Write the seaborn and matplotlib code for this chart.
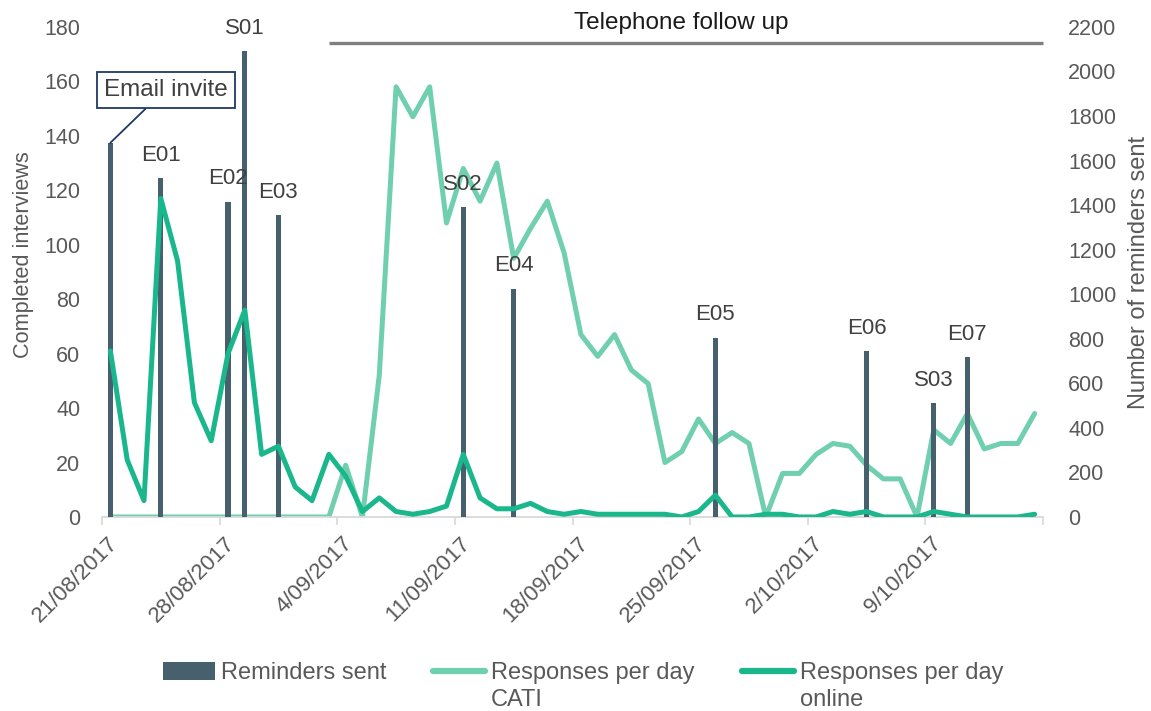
import matplotlib
matplotlib.use("Agg")
import matplotlib.pyplot as plt
import matplotlib.transforms as mtransforms
import seaborn as sns
import pandas as pd
from matplotlib.patches import Patch
from matplotlib.lines import Line2D

sns.set_theme(style="white")
plt.rcParams['font.family'] = ['Liberation Sans', 'DejaVu Sans']

# ---- data -------------------------------------------------------------
START = "2017-08-21"
N_DAYS = 56

cati_per_day = [0] * 14 + [
    19, 0, 52, 158, 147, 158, 108, 128, 116, 130, 95, 106, 116, 97,
    67, 59, 67, 54, 49, 20, 24, 36, 27, 31, 27, 0, 16, 16,
    23, 27, 26, 19, 14, 14, 0, 32, 27, 38, 25, 27, 27, 38,
]
online_per_day = [
    61, 21, 6, 117, 94, 42, 28, 60, 76, 23, 26, 11, 6, 23,
    15, 2, 7, 2, 1, 2, 4, 23, 7, 3, 3, 5, 2, 1,
    2, 1, 1, 1, 1, 1, 0, 2, 8, 0, 0, 1, 1, 0,
    0, 2, 1, 2, 0, 0, 0, 2, 1, 0, 0, 0, 0, 1,
]

reminder_dates = ["2017-08-21", "2017-08-24", "2017-08-28", "2017-08-29",
                  "2017-08-31", "2017-09-11", "2017-09-14", "2017-09-26",
                  "2017-10-05", "2017-10-09", "2017-10-11"]
reminder_counts = [1680, 1520, 1415, 2090, 1355, 1390, 1025, 805, 745, 512, 718]
reminder_names = ["Email invite", "E01", "E02", "S01", "E03", "S02", "E04",
                  "E05", "E06", "S03", "E07"]

week_labels = ["21/08/2017", "28/08/2017", "4/09/2017", "11/09/2017",
               "18/09/2017", "25/09/2017", "2/10/2017", "9/10/2017"]

PHONE_START = "2017-09-03"
PHONE_TITLE = "Telephone follow up"

# ---- frames -----------------------------------------------------------
start = pd.Timestamp(START)
daily = pd.DataFrame({
    "day": range(N_DAYS),
    "cati": cati_per_day,
    "online": online_per_day,
})
reminders = pd.DataFrame({
    "day": [(pd.Timestamp(d) - start).days for d in reminder_dates],
    "count": reminder_counts,
    "name": reminder_names,
})

BAR = "#46606E"
CATI = "#6FCFAE"
ONLINE = "#1AB68C"
GREY_TXT = "#595959"
AXIS = "#D9D9D9"

fig = plt.figure(figsize=(11.51, 7.11), dpi=100)
ax1 = fig.add_axes([0.0886, 0.2729, 0.8176, 0.6892])
ax2 = ax1.twinx()
ax3 = ax1.twinx()

# CATI responses (left scale), reminders (right scale), online on top
sns.lineplot(data=daily, x="day", y="cati", ax=ax1, color=CATI, lw=3.6,
             solid_joinstyle="round", solid_capstyle="round")
sns.barplot(data=reminders, x="day", y="count", ax=ax2, native_scale=True,
            width=0.3, color=BAR, saturation=1, errorbar=None, linewidth=0)
sns.lineplot(data=daily, x="day", y="online", ax=ax3, color=ONLINE, lw=3.6,
             solid_joinstyle="round", solid_capstyle="round")

xmin, xmax = -0.5, N_DAYS - 0.5
for a in (ax1, ax2, ax3):
    a.set_xlim(xmin, xmax)
    for s in a.spines.values():
        s.set_visible(False)
ax1.set_ylim(0, 180)
ax3.set_ylim(0, 180)
ax2.set_ylim(0, 2200)

ax1.spines["bottom"].set_visible(True)
ax1.spines["bottom"].set_color(AXIS)
ax1.spines["bottom"].set_linewidth(1.3)

ax1.set_yticks(range(0, 181, 20))
ax2.set_yticks(range(0, 2201, 200))
ax3.set_yticks([])
ax1.tick_params(axis="y", length=0, pad=15.5, labelsize=15.5, labelcolor=GREY_TXT)
ax2.tick_params(axis="y", length=0, pad=18, labelsize=15.5, labelcolor=GREY_TXT)

week_ticks = [xmin + 7 * i for i in range(len(week_labels))] + [xmax]
ax1.set_xticks(week_ticks)
ax1.set_xticklabels(week_labels + [""], rotation=45, ha="right",
                    rotation_mode="anchor")
ax1.tick_params(axis="x", length=6, width=1.2, color=AXIS, direction="out",
                pad=5.5, labelsize=16, labelcolor=GREY_TXT, bottom=True)
shift = mtransforms.ScaledTranslation(5 / 100, 0, fig.dpi_scale_trans)
for lab in ax1.get_xticklabels():
    lab.set_transform(lab.get_transform() + shift)
ax2.tick_params(axis="x", bottom=False, labelbottom=False)
ax3.tick_params(axis="x", bottom=False, labelbottom=False)

ax1.set_xlabel("")
ax2.set_xlabel("")
ax3.set_xlabel("")
ax3.set_ylabel("")
ax1.set_ylabel("Completed interviews", fontsize=15.6, color=GREY_TXT)
ax2.set_ylabel("Number of reminders sent", fontsize=17, color=GREY_TXT)
ax1.yaxis.set_label_coords(-0.072, 0.535)
ax2.yaxis.set_label_coords(1.090, 0.5)

# reminder labels above each bar
for _, r in reminders.iterrows():
    if r["name"] == "Email invite":
        ax2.annotate(r["name"], xy=(r["day"], r["count"]),
                     xytext=(40, 38), textcoords="offset points",
                     ha="center", va="center", fontsize=17.5, color="#404040",
                     bbox=dict(boxstyle="square,pad=0.3", fc="white",
                               ec="#1F3864", lw=1.3),
                     arrowprops=dict(arrowstyle="-", color="#1F3864", lw=1.3,
                                     relpos=(0.4, 0), shrinkA=0, shrinkB=0))
    else:
        ax2.annotate(r["name"], xy=(r["day"], r["count"]),
                     xytext=(0, 12.5), textcoords="offset points",
                     ha="center", va="baseline", fontsize=16, color="#404040")

# telephone follow-up period marker
phone_day = (pd.Timestamp(PHONE_START) - start).days
ax3.plot([phone_day, xmax], [174, 174], color="#808080", lw=2.4,
         clip_on=False, solid_capstyle="butt")
ax3.text((phone_day + xmax) / 2 - 0.3, 181.3, PHONE_TITLE, ha="center",
         va="center", fontsize=17.5, color="#1A1A1A", clip_on=False)

# legend: two-line labels, with the second line in its own row
blank = Patch(facecolor="none", edgecolor="none")
handles = [Patch(facecolor=BAR, edgecolor="none"), blank,
           Line2D([], [], color=CATI, lw=4.5), blank,
           Line2D([], [], color=ONLINE, lw=4.5), blank]
labels = ["Reminders sent", " ", "Responses per day", "CATI",
          "Responses per day", "online"]
fig.legend(handles, labels, loc="upper center", bbox_to_anchor=(0.5065, 0.069),
           ncol=3, frameon=False, fontsize=17, handlelength=2.2,
           handleheight=0.8, handletextpad=0.25, columnspacing=2.0,
           labelspacing=0.2, borderpad=0, borderaxespad=0,
           labelcolor=GREY_TXT)

fig.savefig("out.png", dpi=100)
